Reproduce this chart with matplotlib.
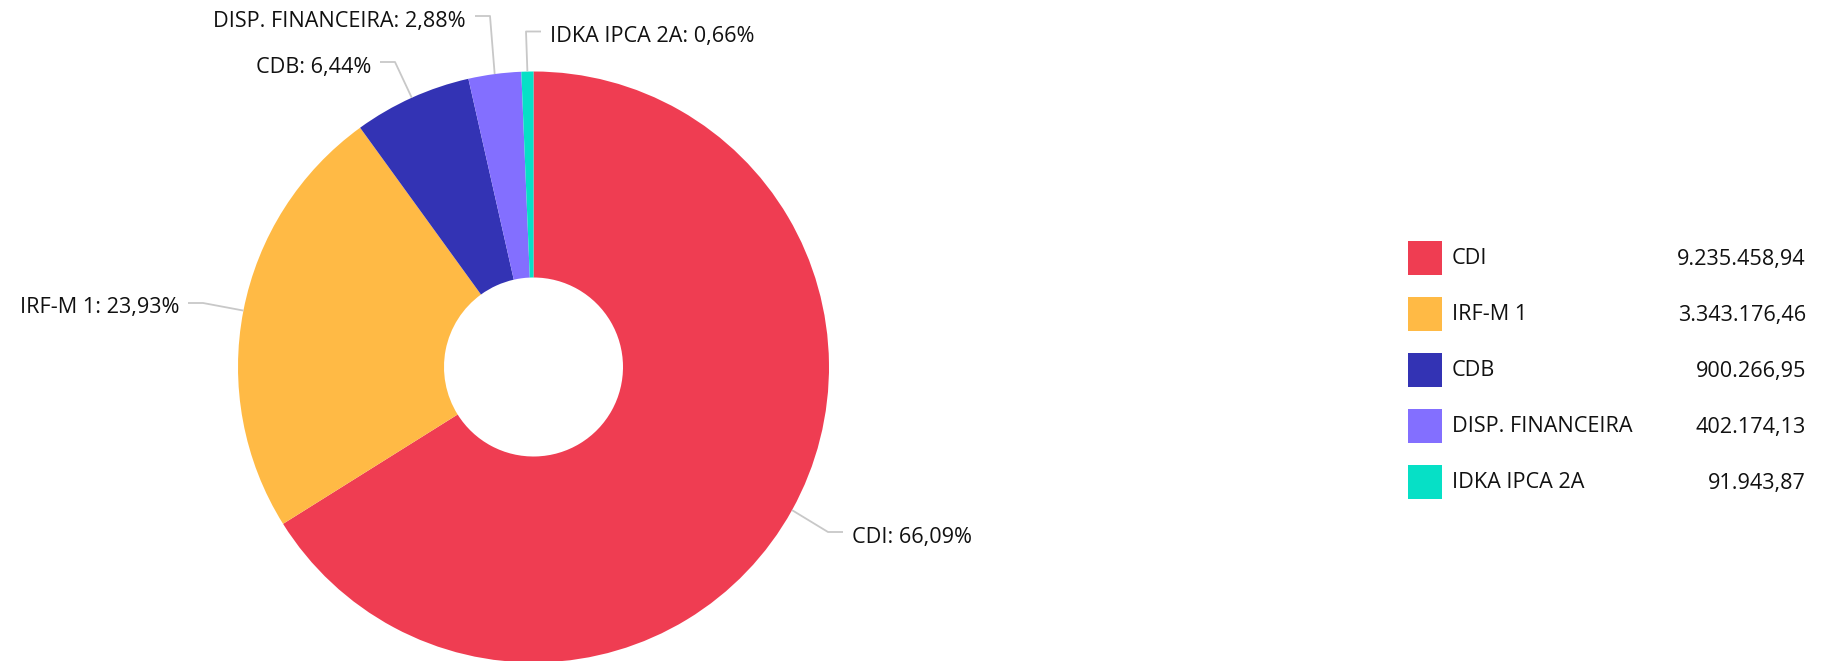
import matplotlib
matplotlib.use("Agg")
import matplotlib.pyplot as plt
from matplotlib.patches import Rectangle
import numpy as np

# dados da carteira
categories = ['CDI', 'IRF-M 1', 'CDB', 'DISP. FINANCEIRA', 'IDKA IPCA 2A']
values = [9235458.94, 3343176.46, 900266.95, 402174.13, 91943.87]
colors = ['#EF3D52', '#FFBA45', '#3333B4', '#836FFF', '#06E0C6']

# layout (pixels, from top-left)
W, H = 1832, 661
cx, cy = 533.5, 367
r_out, r_in = 295.5, 89.5
label_y = [532, 303, 62, 16, 31.5]
label_end = [843, 188, 380, 475, 541]   # end of connector line
label_side = ['right', 'left', 'left', 'left', 'right']


def br(v, dec=2):
    s = f"{v:,.{dec}f}"
    return s.replace(',', 'X').replace('.', ',').replace('X', '.')


plt.rcParams['font.family'] = ['Open Sans', 'DejaVu Sans']

fig = plt.figure(figsize=(W / 100, H / 100), dpi=100)
ax = fig.add_axes([0, 0, 1, 1])

wedges, _ = ax.pie(values, colors=colors, startangle=90, counterclock=False,
                   center=(cx, H - cy), radius=r_out,
                   wedgeprops=dict(width=r_out - r_in, linewidth=0))

total = sum(values)
for w, cat, v, ly, lx, side in zip(wedges, categories, values, label_y, label_end, label_side):
    mid = np.deg2rad((w.theta1 + w.theta2) / 2)
    x0 = cx + r_out * np.cos(mid)
    y0 = (H - cy) + r_out * np.sin(mid)
    sgn = 1 if side == 'right' else -1
    elbow = lx - sgn * 15
    ax.plot([x0, elbow, lx], [y0, H - ly, H - ly], color='#C8C8C8', lw=1.3,
            solid_capstyle='butt', zorder=1)
    txt = f"{cat}: {br(100 * v / total)}%"
    ax.text(lx + sgn * 9, H - ly - 5, txt, ha='left' if side == 'right' else 'right',
            va='center', fontsize=15.6, color='#111111')

# legend
leg_x, leg_y0, leg_dy, box = 1408, 258, 56, 34
val_x = 1806
for i, (cat, v, c) in enumerate(zip(categories, values, colors)):
    yc = H - (leg_y0 + i * leg_dy)
    ax.add_patch(Rectangle((leg_x, yc - box / 2), box, box, facecolor=c, edgecolor='none'))
    ax.text(leg_x + box + 10, yc - 1, cat, ha='left', va='center', fontsize=15.6, color='#111111')
    ax.text(val_x, yc - 1, br(v), ha='right', va='center', fontsize=15.6, color='#111111')

ax.set_xlim(0, W)
ax.set_ylim(0, H)
ax.set_aspect('auto')
ax.axis('off')

fig.savefig('out.png', dpi=100, facecolor='white')
